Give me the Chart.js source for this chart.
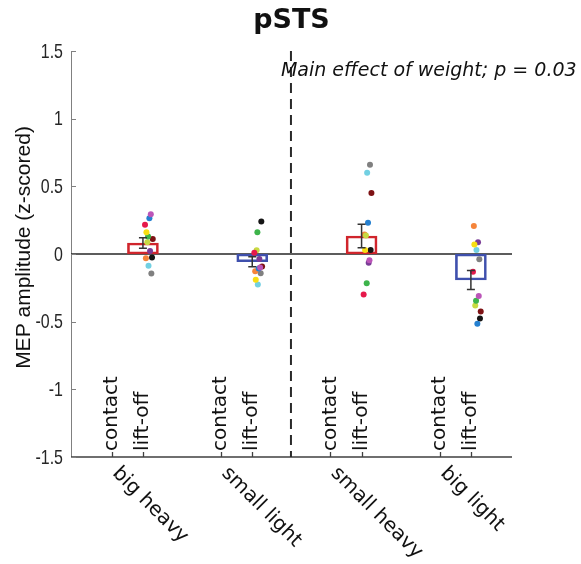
<!DOCTYPE html>
<html>
<head>
<meta charset="utf-8">
<script src="https://cdn.jsdelivr.net/npm/chart.js@4/dist/chart.umd.min.js"></script>
<style>
  html, body { margin: 0; padding: 0; background: #fff; }
</style>
</head>
<body>
<canvas id="grafica" width="581" height="564"></canvas>
<script>
// categories
const grupos = ['big heavy', 'small light', 'small heavy', 'big light'];
const fases = ['contact', 'lift-off'];
const contactX = [1, 2, 3, 4];
const liftoffX = [1.286, 2.286, 3.286, 4.286];
const divisorX = 2.64;
const yTicks = [-1.5, -1, -0.5, 0, 0.5, 1, 1.5];

// group means and SEM (boxes + error bars)
const medias = [0.081, -0.057, 0.133, -0.192];
const errores = [0.039, 0.037, 0.086, 0.070];
const coloresCaja = ['#d0252c', '#3f50ad', '#d0252c', '#3f50ad'];

// participants: colour, horizontal jitter, value per group (big heavy, small light, small heavy, big light)
const coloresSujeto = ['#bb55b8', '#2580d0', '#e6194b', '#f8de12', '#3db44b', '#7e1214',
                       '#c8da42', '#7a3c96', '#151515', '#f5843a', '#72d0e2', '#808080'];
const jitterSujeto = [0.072, 0.059, 0.019, 0.032, 0.047, 0.090,
                      0.040, 0.065, 0.083, 0.027, 0.051, 0.077];
const magenta = [0.294, -0.100, -0.047, -0.311];
const azul    = [0.265, -0.108, 0.230, -0.515];
const rojo    = [0.216, 0.010, -0.300, -0.132];
const amarillo= [0.160, -0.190, 0.030, 0.071];
const verde   = [0.130, 0.160, -0.216, -0.345];
const granate = [0.110, -0.093, 0.450, -0.424];
const lima    = [0.086, 0.027, 0.137, -0.380];
const morado  = [0.022, -0.037, -0.064, 0.086];
const negro   = [-0.025, 0.240, 0.030, -0.476];
const naranja = [-0.032, -0.127, 0.145, 0.206];
const cian    = [-0.086, -0.226, 0.600, 0.029];
const gris    = [-0.145, -0.142, 0.660, -0.039];
const valores = [magenta, azul, rojo, amarillo, verde, granate, lima, morado, negro, naranja, cian, gris];

const datasets = [{
    type: 'bar',
    data: liftoffX.map((x, i) => ({ x, y: medias[i] })),
    backgroundColor: 'rgba(0,0,0,0)',
    borderColor: coloresCaja,
    borderWidth: 2,
    borderSkipped: false,
    barThickness: 31,
    grouped: false,
    order: 2
}];
valores.forEach((vals, p) => {
    datasets.push({
        type: 'scatter',
        data: liftoffX.map((x, g) => ({ x: x + jitterSujeto[p], y: vals[g] })),
        backgroundColor: coloresSujeto[p],
        borderWidth: 0,
        pointRadius: 3,
        order: 1
    });
});

const dejavu = '"DejaVu Sans", Verdana, sans-serif';

const adornos = {
    id: 'adornos',
    beforeDatasetsDraw(chart) {
        const { ctx, chartArea: a, scales: { y } } = chart;
        ctx.save();
        // zero line
        const y0 = y.getPixelForValue(0);
        ctx.strokeStyle = '#262626';
        ctx.lineWidth = 1.3;
        ctx.beginPath();
        ctx.moveTo(a.left, y0);
        ctx.lineTo(a.right, y0);
        ctx.stroke();
        ctx.restore();
    },
    afterDatasetsDraw(chart) {
        const { ctx, chartArea: a, scales: { x, y } } = chart;
        ctx.save();

        // error bars
        ctx.strokeStyle = '#333';
        ctx.lineWidth = 1.5;
        liftoffX.forEach((lx, i) => {
            const px = x.getPixelForValue(lx);
            const t = y.getPixelForValue(medias[i] + errores[i]);
            const b = y.getPixelForValue(medias[i] - errores[i]);
            ctx.beginPath();
            ctx.moveTo(px, t); ctx.lineTo(px, b);
            ctx.moveTo(px - 4, t); ctx.lineTo(px + 4, t);
            ctx.moveTo(px - 4, b); ctx.lineTo(px + 4, b);
            ctx.stroke();
        });

        // bottom axis line and ticks
        ctx.strokeStyle = '#404040';
        ctx.lineWidth = 1.3;
        ctx.beginPath();
        ctx.moveTo(a.left, a.bottom);
        ctx.lineTo(a.right, a.bottom);
        [...contactX, ...liftoffX].forEach(v => {
            const px = Math.round(x.getPixelForValue(v)) + 0.5;
            ctx.moveTo(px, a.bottom);
            ctx.lineTo(px, a.bottom - 5);
        });
        ctx.stroke();

        // y ticks (inward) and narrow tick labels
        ctx.strokeStyle = '#808080';
        ctx.lineWidth = 1;
        ctx.beginPath();
        y.ticks.forEach(t => {
            const py = Math.round(y.getPixelForValue(t.value)) + 0.5;
            ctx.moveTo(a.left, py);
            ctx.lineTo(a.left + 5, py);
        });
        ctx.stroke();
        ctx.fillStyle = '#262626';
        ctx.font = '21px "Liberation Sans", Arial, sans-serif';
        ctx.textAlign = 'right';
        ctx.textBaseline = 'middle';
        y.ticks.forEach(t => {
            ctx.save();
            ctx.translate(a.left - 8, y.getPixelForValue(t.value));
            ctx.scale(0.76, 1);
            ctx.fillText(String(t.value), 0, 1);
            ctx.restore();
        });

        // dashed divider
        const dx = x.getPixelForValue(divisorX);
        ctx.strokeStyle = '#2a2a2a';
        ctx.lineWidth = 2;
        ctx.setLineDash([10, 6]);
        ctx.beginPath();
        ctx.moveTo(dx, a.top);
        ctx.lineTo(dx, a.bottom);
        ctx.stroke();
        ctx.setLineDash([]);

        // phase labels inside the axes
        ctx.fillStyle = '#111';
        ctx.font = '20px ' + dejavu;
        ctx.textAlign = 'left';
        ctx.textBaseline = 'middle';
        contactX.forEach((cx, i) => {
            [cx, liftoffX[i]].forEach((v, k) => {
                ctx.save();
                ctx.translate(x.getPixelForValue(v), a.bottom - 6);
                ctx.rotate(-Math.PI / 2);
                ctx.fillText(fases[k], 0, 0);
                ctx.restore();
            });
        });

        // group labels below the axis
        ctx.font = '20px ' + dejavu;
        ctx.textBaseline = 'alphabetic';
        grupos.forEach((g, i) => {
            ctx.save();
            ctx.translate(x.getPixelForValue(contactX[i]), a.bottom + 17);
            ctx.rotate(Math.PI / 4);
            ctx.fillText(g, 0, 0);
            ctx.restore();
        });

        // annotation
        ctx.font = 'italic 19px ' + dejavu;
        ctx.textAlign = 'left';
        ctx.fillText('Main effect of weight; p = 0.03', dx - 10, 76);

        // title
        ctx.font = 'bold 27px ' + dejavu;
        ctx.textAlign = 'center';
        ctx.fillText('pSTS', (a.left + a.right) / 2, 28);

        // y title
        ctx.font = '21px "Liberation Sans", Arial, sans-serif';
        ctx.save();
        ctx.translate(30, 247.5);
        ctx.rotate(-Math.PI / 2);
        ctx.fillText('MEP amplitude (z-scored)', 0, 0);
        ctx.restore();

        ctx.restore();
    }
};

new Chart(document.getElementById('grafica'), {
    type: 'scatter',
    data: { datasets },
    options: {
        responsive: false,
        animation: false,
        layout: { padding: { top: 51, right: 69, bottom: 107, left: 0 } },
        plugins: { legend: { display: false }, tooltip: { enabled: false } },
        scales: {
            x: { type: 'linear', min: 0.628, max: 4.662, offset: false, display: false },
            y: {
                min: -1.5, max: 1.5,
                afterBuildTicks: s => { s.ticks = yTicks.map(v => ({ value: v })); },
                afterFit: s => { s.width = 71; },
                grid: { display: false },
                border: { display: true, color: '#808080', width: 1 },
                ticks: { display: false }
            }
        }
    },
    plugins: [adornos]
});
</script>
</body>
</html>
